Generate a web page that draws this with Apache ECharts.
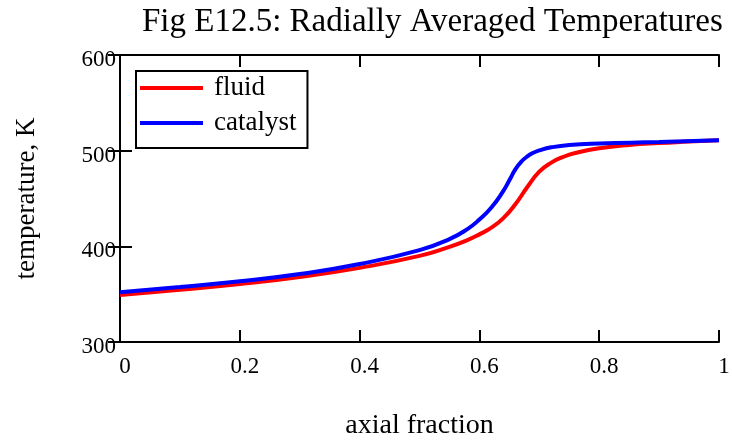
<!DOCTYPE html>
<html>
<head>
<meta charset="utf-8">
<title>Fig E12.5</title>
<script src="https://cdn.jsdelivr.net/npm/echarts@6/dist/echarts.min.js"></script>
<style>
html, body { margin: 0; padding: 0; background: #fff; }
#chart { width: 732px; height: 440px; }
</style>
</head>
<body>
<div id="chart"></div>
<script>
// axial fraction / temperature (K)
var fluidX = [0, 0.1, 0.2, 0.3, 0.4, 0.5, 0.55, 0.58, 0.6, 0.62, 0.64, 0.66, 0.68, 0.7, 0.72, 0.74, 0.76, 0.8, 0.85, 0.9, 0.95, 1.0];
var fluidT = [349, 354.5, 360.5, 368, 377.5, 390, 399.5, 406.5, 412.5, 419.5, 429.5, 444, 462, 478, 487.5, 493.5, 497.5, 502.5, 506, 508, 509.5, 511];

var catX = [0, 0.1, 0.2, 0.3, 0.4, 0.5, 0.55, 0.58, 0.6, 0.62, 0.64, 0.65, 0.66, 0.67, 0.68, 0.69, 0.7, 0.72, 0.75, 0.8, 0.9, 1.0];
var catT = [352, 357.5, 363.5, 371, 381.5, 396, 407.5, 418, 428, 440.5, 458, 469, 480.5, 488.5, 494, 497.8, 500.3, 503.5, 506, 507.5, 509, 511];

var xTicks = [0, 0.2, 0.4, 0.6, 0.8, 1];
var yTicks = [300, 400, 500, 600];

var serif = 'Liberation Serif';

function pairs(xs, ys) {
	return xs.map(function (x, i) { return [x, ys[i]]; });
}

var chart = echarts.init(document.getElementById('chart'));

var axisLine = { show: true, lineStyle: { color: '#000', width: 2 } };
var tick = { show: true, inside: true, length: 12, lineStyle: { color: '#000', width: 2 } };

var option = {
	animation: false,
	backgroundColor: '#fff',
	title: {
		text: 'Fig E12.5: Radially Averaged Temperatures',
		left: 137, top: 1,
		textStyle: { fontFamily: serif, fontSize: 33, fontWeight: 'normal', color: '#000' }
	},
	legend: {
		orient: 'vertical',
		left: 136, top: 71,
		padding: [2, 11, 10, 4],
		itemGap: 5,
		itemWidth: 63, itemHeight: 4,
		icon: 'rect',
		borderColor: '#000', borderWidth: 2,
		textStyle: { fontFamily: serif, fontSize: 27, color: '#000', lineHeight: 30, padding: [0, 0, 0, 6] },
		data: ['fluid', 'catalyst']
	},
	grid: { left: 120, right: 13, top: 55, bottom: 98, containLabel: false, outerBoundsMode: 'none' },
	xAxis: [{
		type: 'value', min: xTicks[0], max: xTicks[xTicks.length - 1], interval: 0.2,
		name: 'axial fraction', nameLocation: 'middle', nameGap: 70,
		nameTextStyle: { fontFamily: serif, fontSize: 28, color: '#000' },
		axisLine: axisLine, axisTick: tick, splitLine: { show: false },
		axisLabel: { fontFamily: serif, fontSize: 23, color: '#000', margin: 13,
			formatter: function (v) { return String(+v.toFixed(1)); },
			padding: [0, 0, 0, 10] }
	}, {
		type: 'value', position: 'top', min: xTicks[0], max: xTicks[xTicks.length - 1], interval: 0.2,
		axisLine: axisLine, axisTick: tick, splitLine: { show: false }, axisLabel: { show: false }
	}],
	yAxis: [{
		type: 'value', min: yTicks[0], max: yTicks[yTicks.length - 1], interval: 100,
		name: 'temperature, K', nameLocation: 'middle', nameGap: 80,
		nameTextStyle: { fontFamily: serif, fontSize: 27, color: '#000' },
		axisLine: axisLine, axisTick: tick, splitLine: { show: false },
		axisLabel: { fontFamily: serif, fontSize: 23, color: '#000', margin: 4,
			verticalAlign: 'top', lineHeight: 10 }
	}, {
		type: 'value', position: 'right', min: yTicks[0], max: yTicks[yTicks.length - 1], interval: 100,
		axisLine: axisLine, axisTick: tick, splitLine: { show: false }, axisLabel: { show: false }
	}],
	series: [{
		name: 'fluid', type: 'line', smooth: true, symbol: 'none',
		color: '#ff0000', lineStyle: { color: '#ff0000', width: 4 },
		data: pairs(fluidX, fluidT)
	}, {
		name: 'catalyst', type: 'line', smooth: true, symbol: 'none',
		color: '#0000ff', lineStyle: { color: '#0000ff', width: 4 },
		data: pairs(catX, catT)
	}]
};

chart.setOption(option);
</script>
</body>
</html>
